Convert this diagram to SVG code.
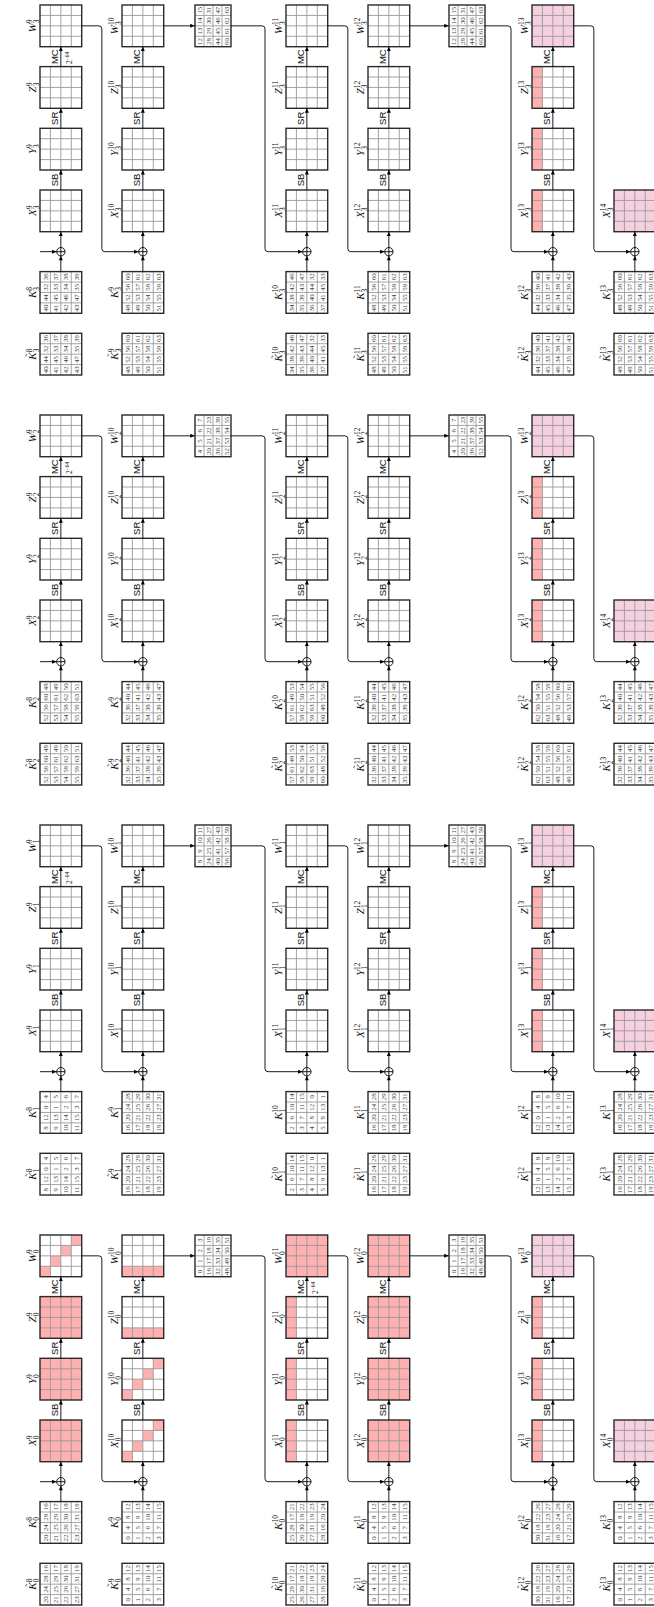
<svg xmlns="http://www.w3.org/2000/svg" xmlns:xlink="http://www.w3.org/1999/xlink" width="654" height="1607" viewBox="0 0 654 1607">
<style>
.bx{fill:none;stroke:#2a2a2a;stroke-width:1.4}
.gl{fill:none;stroke:#9a9a9a;stroke-width:0.9}
.pk{fill:#ffb0b0}
.lp{fill:#f6d0e0}
.ln path{fill:none;stroke:#000;stroke-width:0.9;marker-end:url(#ah)}
.xo{fill:#fff;stroke:#000;stroke-width:0.9}
.lb{font-family:"Liberation Serif",serif;font-size:11px;text-anchor:middle;fill:#111}
.it{font-style:italic}
.s{font-size:7.5px}
.tl{font-family:"Liberation Serif",serif;font-size:9px;text-anchor:middle;fill:#111}
.op{font-family:"Liberation Sans",sans-serif;font-size:9.5px;text-anchor:middle;fill:#111}
.e{font-family:"Liberation Serif",serif;font-size:7.5px;fill:#111}
.n{font-family:"Liberation Serif",serif;font-size:6.8px;text-anchor:middle;fill:#444}
</style>
<defs>
<marker id="ah" viewBox="0 0 8 8" refX="7.5" refY="4" markerWidth="5" markerHeight="5" markerUnits="userSpaceOnUse" orient="auto"><path d="M0.5 0.8L7.5 4L0.5 7.2z" fill="#000"/></marker>
<g id="g"><path class="gl" d="M10.42 0V41.7M20.85 0V41.7M31.27 0V41.7M0 10.42H41.7M0 20.85H41.7M0 31.27H41.7"/><rect class="bx" width="41.7" height="41.7"/></g>
<g id="gm"><path class="gl" d="M10.42 0V36M20.85 0V36M31.27 0V36M0 9H41.7M0 18H41.7M0 27H41.7"/><rect class="bx" width="41.7" height="36"/></g>
<rect id="pf" width="41.7" height="41.7"/>
<path id="pd" d="M0 0h10.42v10.42H0zM10.42 10.42h10.43v10.43H10.42zM20.85 20.85h10.42v10.42H20.85zM31.27 31.27h10.43v10.43H31.27z"/>
<rect id="pc" width="10.42" height="41.7"/>
<rect id="pr" width="41.7" height="10.42"/>
<g id="xo"><circle r="4.2"/><path d="M-4.2 0H4.2M0 -4.2V4.2"/></g>
</defs>
<rect width="654" height="1607" fill="#fff"/>
<g transform="matrix(0,-1,1,0,0,1607)">

<!-- ================= BAND 0 ================= -->
<g id="band0">
<g id="KT0-8" transform="translate(2,40)"><use href="#g"/><g class="n"><text y="7.6"><tspan x="5.2">20</tspan><tspan x="15.6">24</tspan><tspan x="26">28</tspan><tspan x="36.5">16</tspan></text><text y="18"><tspan x="5.2">21</tspan><tspan x="15.6">25</tspan><tspan x="26">29</tspan><tspan x="36.5">17</tspan></text><text y="28.4"><tspan x="5.2">22</tspan><tspan x="15.6">26</tspan><tspan x="26">30</tspan><tspan x="36.5">18</tspan></text><text y="38.8"><tspan x="5.2">23</tspan><tspan x="15.6">27</tspan><tspan x="26">31</tspan><tspan x="36.5">19</tspan></text></g><text class="lb" x="20.85" y="-4.5"><tspan class="it">K</tspan><tspan class="s" dy="3.5">0</tspan><tspan class="s" dx="-3.75" dy="-7.5">8</tspan></text><text class="tl" x="19.8" y="-9">˜</text></g>
<g id="K0-8" transform="translate(63.7,40)"><use href="#g"/><g class="n"><text y="7.6"><tspan x="5.2">20</tspan><tspan x="15.6">24</tspan><tspan x="26">28</tspan><tspan x="36.5">16</tspan></text><text y="18"><tspan x="5.2">21</tspan><tspan x="15.6">25</tspan><tspan x="26">29</tspan><tspan x="36.5">17</tspan></text><text y="28.4"><tspan x="5.2">22</tspan><tspan x="15.6">26</tspan><tspan x="26">30</tspan><tspan x="36.5">18</tspan></text><text y="38.8"><tspan x="5.2">23</tspan><tspan x="15.6">27</tspan><tspan x="26">31</tspan><tspan x="36.5">19</tspan></text></g><text class="lb" x="20.85" y="-4.5"><tspan class="it">K</tspan><tspan class="s" dy="3.5">0</tspan><tspan class="s" dx="-3.75" dy="-7.5">8</tspan></text></g>
<g id="XOR0-9" transform="translate(125.3,60.85)"><use href="#xo" class="xo"/></g>
<g id="X0-9" transform="translate(145.3,40)"><use href="#pf" class="pk"/><use href="#g"/><text class="lb" x="20.85" y="-4.5"><tspan class="it">X</tspan><tspan class="s" dy="3.5">0</tspan><tspan class="s" dx="-3.75" dy="-7.5">9</tspan></text></g>
<g id="Y0-9" transform="translate(207,40)"><use href="#pf" class="pk"/><use href="#g"/><text class="lb" x="20.85" y="-4.5"><tspan class="it">Y</tspan><tspan class="s" dy="3.5">0</tspan><tspan class="s" dx="-3.75" dy="-7.5">9</tspan></text></g>
<g id="Z0-9" transform="translate(268.7,40)"><use href="#pf" class="pk"/><use href="#g"/><text class="lb" x="20.85" y="-4.5"><tspan class="it">Z</tspan><tspan class="s" dy="3.5">0</tspan><tspan class="s" dx="-3.75" dy="-7.5">9</tspan></text></g>
<g id="W0-9" transform="translate(330.3,40)"><use href="#pd" class="pk"/><use href="#g"/><text class="lb" x="20.85" y="-4.5"><tspan class="it">W</tspan><tspan class="s" dy="3.5">0</tspan><tspan class="s" dx="-3.75" dy="-7.5">9</tspan></text></g>

<g id="KT0-9" transform="translate(2,122)"><use href="#g"/><g class="n"><text y="7.6"><tspan x="5.2">0</tspan><tspan x="15.6">4</tspan><tspan x="26">8</tspan><tspan x="36.5">12</tspan></text><text y="18"><tspan x="5.2">1</tspan><tspan x="15.6">5</tspan><tspan x="26">9</tspan><tspan x="36.5">13</tspan></text><text y="28.4"><tspan x="5.2">2</tspan><tspan x="15.6">6</tspan><tspan x="26">10</tspan><tspan x="36.5">14</tspan></text><text y="38.8"><tspan x="5.2">3</tspan><tspan x="15.6">7</tspan><tspan x="26">11</tspan><tspan x="36.5">15</tspan></text></g><text class="lb" x="20.85" y="-4.5"><tspan class="it">K</tspan><tspan class="s" dy="3.5">0</tspan><tspan class="s" dx="-3.75" dy="-7.5">9</tspan></text><text class="tl" x="19.8" y="-9">˜</text></g>
<g id="K0-9" transform="translate(63.7,122)"><use href="#g"/><g class="n"><text y="7.6"><tspan x="5.2">0</tspan><tspan x="15.6">4</tspan><tspan x="26">8</tspan><tspan x="36.5">12</tspan></text><text y="18"><tspan x="5.2">1</tspan><tspan x="15.6">5</tspan><tspan x="26">9</tspan><tspan x="36.5">13</tspan></text><text y="28.4"><tspan x="5.2">2</tspan><tspan x="15.6">6</tspan><tspan x="26">10</tspan><tspan x="36.5">14</tspan></text><text y="38.8"><tspan x="5.2">3</tspan><tspan x="15.6">7</tspan><tspan x="26">11</tspan><tspan x="36.5">15</tspan></text></g><text class="lb" x="20.85" y="-4.5"><tspan class="it">K</tspan><tspan class="s" dy="3.5">0</tspan><tspan class="s" dx="-3.75" dy="-7.5">9</tspan></text></g>
<g id="XOR0-10" transform="translate(125.3,142.85)"><use href="#xo" class="xo"/></g>
<g id="X0-10" transform="translate(145.3,122)"><use href="#pd" class="pk"/><use href="#g"/><text class="lb" x="20.85" y="-4.5"><tspan class="it">X</tspan><tspan class="s" dy="3.5">0</tspan><tspan class="s" dx="-3.75" dy="-7.5">10</tspan></text></g>
<g id="Y0-10" transform="translate(207,122)"><use href="#pd" class="pk"/><use href="#g"/><text class="lb" x="20.85" y="-4.5"><tspan class="it">Y</tspan><tspan class="s" dy="3.5">0</tspan><tspan class="s" dx="-3.75" dy="-7.5">10</tspan></text></g>
<g id="Z0-10" transform="translate(268.7,122)"><use href="#pc" class="pk"/><use href="#g"/><text class="lb" x="20.85" y="-4.5"><tspan class="it">Z</tspan><tspan class="s" dy="3.5">0</tspan><tspan class="s" dx="-3.75" dy="-7.5">10</tspan></text></g>
<g id="W0-10" transform="translate(330.3,122)"><use href="#pc" class="pk"/><use href="#g"/><text class="lb" x="20.85" y="-4.5"><tspan class="it">W</tspan><tspan class="s" dy="3.5">0</tspan><tspan class="s" dx="-3.75" dy="-7.5">10</tspan></text></g>

<g id="T0-a" transform="translate(330.3,195)"><use href="#gm"/><g class="n"><text y="6.9"><tspan x="5.2">0</tspan><tspan x="15.6">1</tspan><tspan x="26">2</tspan><tspan x="36.5">3</tspan></text><text y="15.9"><tspan x="5.2">16</tspan><tspan x="15.6">17</tspan><tspan x="26">18</tspan><tspan x="36.5">19</tspan></text><text y="24.9"><tspan x="5.2">32</tspan><tspan x="15.6">33</tspan><tspan x="26">34</tspan><tspan x="36.5">35</tspan></text><text y="33.9"><tspan x="5.2">48</tspan><tspan x="15.6">49</tspan><tspan x="26">50</tspan><tspan x="36.5">51</tspan></text></g></g>

<g id="KT0-10" transform="translate(2,286)"><use href="#g"/><g class="n"><text y="7.6"><tspan x="5.2">25</tspan><tspan x="15.6">29</tspan><tspan x="26">17</tspan><tspan x="36.5">21</tspan></text><text y="18"><tspan x="5.2">26</tspan><tspan x="15.6">30</tspan><tspan x="26">18</tspan><tspan x="36.5">22</tspan></text><text y="28.4"><tspan x="5.2">27</tspan><tspan x="15.6">31</tspan><tspan x="26">19</tspan><tspan x="36.5">23</tspan></text><text y="38.8"><tspan x="5.2">28</tspan><tspan x="15.6">16</tspan><tspan x="26">20</tspan><tspan x="36.5">24</tspan></text></g><text class="lb" x="20.85" y="-4.5"><tspan class="it">K</tspan><tspan class="s" dy="3.5">0</tspan><tspan class="s" dx="-3.75" dy="-7.5">10</tspan></text><text class="tl" x="17.9" y="-9">˜</text></g>
<g id="K0-10" transform="translate(63.7,286)"><use href="#g"/><g class="n"><text y="7.6"><tspan x="5.2">25</tspan><tspan x="15.6">29</tspan><tspan x="26">17</tspan><tspan x="36.5">21</tspan></text><text y="18"><tspan x="5.2">26</tspan><tspan x="15.6">30</tspan><tspan x="26">18</tspan><tspan x="36.5">22</tspan></text><text y="28.4"><tspan x="5.2">27</tspan><tspan x="15.6">31</tspan><tspan x="26">19</tspan><tspan x="36.5">23</tspan></text><text y="38.8"><tspan x="5.2">28</tspan><tspan x="15.6">16</tspan><tspan x="26">20</tspan><tspan x="36.5">24</tspan></text></g><text class="lb" x="20.85" y="-4.5"><tspan class="it">K</tspan><tspan class="s" dy="3.5">0</tspan><tspan class="s" dx="-3.75" dy="-7.5">10</tspan></text></g>
<g id="XOR0-11" transform="translate(125.3,306.85)"><use href="#xo" class="xo"/></g>
<g id="X0-11" transform="translate(145.3,286)"><use href="#pr" class="pk"/><use href="#g"/><text class="lb" x="20.85" y="-4.5"><tspan class="it">X</tspan><tspan class="s" dy="3.5">0</tspan><tspan class="s" dx="-3.75" dy="-7.5">11</tspan></text></g>
<g id="Y0-11" transform="translate(207,286)"><use href="#pr" class="pk"/><use href="#g"/><text class="lb" x="20.85" y="-4.5"><tspan class="it">Y</tspan><tspan class="s" dy="3.5">0</tspan><tspan class="s" dx="-3.75" dy="-7.5">11</tspan></text></g>
<g id="Z0-11" transform="translate(268.7,286)"><use href="#pr" class="pk"/><use href="#g"/><text class="lb" x="20.85" y="-4.5"><tspan class="it">Z</tspan><tspan class="s" dy="3.5">0</tspan><tspan class="s" dx="-3.75" dy="-7.5">11</tspan></text></g>
<g id="W0-11" transform="translate(330.3,286)"><use href="#pf" class="pk"/><use href="#g"/><text class="lb" x="20.85" y="-4.5"><tspan class="it">W</tspan><tspan class="s" dy="3.5">0</tspan><tspan class="s" dx="-3.75" dy="-7.5">11</tspan></text></g>

<g id="KT0-11" transform="translate(2,368)"><use href="#g"/><g class="n"><text y="7.6"><tspan x="5.2">0</tspan><tspan x="15.6">4</tspan><tspan x="26">8</tspan><tspan x="36.5">12</tspan></text><text y="18"><tspan x="5.2">1</tspan><tspan x="15.6">5</tspan><tspan x="26">9</tspan><tspan x="36.5">13</tspan></text><text y="28.4"><tspan x="5.2">2</tspan><tspan x="15.6">6</tspan><tspan x="26">10</tspan><tspan x="36.5">14</tspan></text><text y="38.8"><tspan x="5.2">3</tspan><tspan x="15.6">7</tspan><tspan x="26">11</tspan><tspan x="36.5">15</tspan></text></g><text class="lb" x="20.85" y="-4.5"><tspan class="it">K</tspan><tspan class="s" dy="3.5">0</tspan><tspan class="s" dx="-3.75" dy="-7.5">11</tspan></text><text class="tl" x="17.9" y="-9">˜</text></g>
<g id="K0-11" transform="translate(63.7,368)"><use href="#g"/><g class="n"><text y="7.6"><tspan x="5.2">0</tspan><tspan x="15.6">4</tspan><tspan x="26">8</tspan><tspan x="36.5">12</tspan></text><text y="18"><tspan x="5.2">1</tspan><tspan x="15.6">5</tspan><tspan x="26">9</tspan><tspan x="36.5">13</tspan></text><text y="28.4"><tspan x="5.2">2</tspan><tspan x="15.6">6</tspan><tspan x="26">10</tspan><tspan x="36.5">14</tspan></text><text y="38.8"><tspan x="5.2">3</tspan><tspan x="15.6">7</tspan><tspan x="26">11</tspan><tspan x="36.5">15</tspan></text></g><text class="lb" x="20.85" y="-4.5"><tspan class="it">K</tspan><tspan class="s" dy="3.5">0</tspan><tspan class="s" dx="-3.75" dy="-7.5">11</tspan></text></g>
<g id="XOR0-12" transform="translate(125.3,388.85)"><use href="#xo" class="xo"/></g>
<g id="X0-12" transform="translate(145.3,368)"><use href="#pf" class="pk"/><use href="#g"/><text class="lb" x="20.85" y="-4.5"><tspan class="it">X</tspan><tspan class="s" dy="3.5">0</tspan><tspan class="s" dx="-3.75" dy="-7.5">12</tspan></text></g>
<g id="Y0-12" transform="translate(207,368)"><use href="#pf" class="pk"/><use href="#g"/><text class="lb" x="20.85" y="-4.5"><tspan class="it">Y</tspan><tspan class="s" dy="3.5">0</tspan><tspan class="s" dx="-3.75" dy="-7.5">12</tspan></text></g>
<g id="Z0-12" transform="translate(268.7,368)"><use href="#pf" class="pk"/><use href="#g"/><text class="lb" x="20.85" y="-4.5"><tspan class="it">Z</tspan><tspan class="s" dy="3.5">0</tspan><tspan class="s" dx="-3.75" dy="-7.5">12</tspan></text></g>
<g id="W0-12" transform="translate(330.3,368)"><use href="#pf" class="pk"/><use href="#g"/><text class="lb" x="20.85" y="-4.5"><tspan class="it">W</tspan><tspan class="s" dy="3.5">0</tspan><tspan class="s" dx="-3.75" dy="-7.5">12</tspan></text></g>

<g id="T0-b" transform="translate(330.3,449)"><use href="#gm"/><g class="n"><text y="6.9"><tspan x="5.2">0</tspan><tspan x="15.6">1</tspan><tspan x="26">2</tspan><tspan x="36.5">3</tspan></text><text y="15.9"><tspan x="5.2">16</tspan><tspan x="15.6">17</tspan><tspan x="26">18</tspan><tspan x="36.5">19</tspan></text><text y="24.9"><tspan x="5.2">32</tspan><tspan x="15.6">33</tspan><tspan x="26">34</tspan><tspan x="36.5">35</tspan></text><text y="33.9"><tspan x="5.2">48</tspan><tspan x="15.6">49</tspan><tspan x="26">50</tspan><tspan x="36.5">51</tspan></text></g></g>

<g id="KT0-12" transform="translate(2,532)"><use href="#g"/><g class="n"><text y="7.6"><tspan x="5.2">30</tspan><tspan x="15.6">18</tspan><tspan x="26">22</tspan><tspan x="36.5">26</tspan></text><text y="18"><tspan x="5.2">31</tspan><tspan x="15.6">19</tspan><tspan x="26">23</tspan><tspan x="36.5">27</tspan></text><text y="28.4"><tspan x="5.2">16</tspan><tspan x="15.6">20</tspan><tspan x="26">24</tspan><tspan x="36.5">28</tspan></text><text y="38.8"><tspan x="5.2">17</tspan><tspan x="15.6">21</tspan><tspan x="26">25</tspan><tspan x="36.5">29</tspan></text></g><text class="lb" x="20.85" y="-4.5"><tspan class="it">K</tspan><tspan class="s" dy="3.5">0</tspan><tspan class="s" dx="-3.75" dy="-7.5">12</tspan></text><text class="tl" x="17.9" y="-9">˜</text></g>
<g id="K0-12" transform="translate(63.7,532)"><use href="#g"/><g class="n"><text y="7.6"><tspan x="5.2">30</tspan><tspan x="15.6">18</tspan><tspan x="26">22</tspan><tspan x="36.5">26</tspan></text><text y="18"><tspan x="5.2">31</tspan><tspan x="15.6">19</tspan><tspan x="26">23</tspan><tspan x="36.5">27</tspan></text><text y="28.4"><tspan x="5.2">16</tspan><tspan x="15.6">20</tspan><tspan x="26">24</tspan><tspan x="36.5">28</tspan></text><text y="38.8"><tspan x="5.2">17</tspan><tspan x="15.6">21</tspan><tspan x="26">25</tspan><tspan x="36.5">29</tspan></text></g><text class="lb" x="20.85" y="-4.5"><tspan class="it">K</tspan><tspan class="s" dy="3.5">0</tspan><tspan class="s" dx="-3.75" dy="-7.5">12</tspan></text></g>
<g id="XOR0-13" transform="translate(125.3,552.85)"><use href="#xo" class="xo"/></g>
<g id="X0-13" transform="translate(145.3,532)"><use href="#pr" class="pk"/><use href="#g"/><text class="lb" x="20.85" y="-4.5"><tspan class="it">X</tspan><tspan class="s" dy="3.5">0</tspan><tspan class="s" dx="-3.75" dy="-7.5">13</tspan></text></g>
<g id="Y0-13" transform="translate(207,532)"><use href="#pr" class="pk"/><use href="#g"/><text class="lb" x="20.85" y="-4.5"><tspan class="it">Y</tspan><tspan class="s" dy="3.5">0</tspan><tspan class="s" dx="-3.75" dy="-7.5">13</tspan></text></g>
<g id="Z0-13" transform="translate(268.7,532)"><use href="#pr" class="pk"/><use href="#g"/><text class="lb" x="20.85" y="-4.5"><tspan class="it">Z</tspan><tspan class="s" dy="3.5">0</tspan><tspan class="s" dx="-3.75" dy="-7.5">13</tspan></text></g>
<g id="W0-13" transform="translate(330.3,532)"><use href="#pf" class="lp"/><use href="#g"/><text class="lb" x="20.85" y="-4.5"><tspan class="it">W</tspan><tspan class="s" dy="3.5">0</tspan><tspan class="s" dx="-3.75" dy="-7.5">13</tspan></text></g>

<g id="KT0-13" transform="translate(2,614)"><use href="#g"/><g class="n"><text y="7.6"><tspan x="5.2">0</tspan><tspan x="15.6">4</tspan><tspan x="26">8</tspan><tspan x="36.5">12</tspan></text><text y="18"><tspan x="5.2">1</tspan><tspan x="15.6">5</tspan><tspan x="26">9</tspan><tspan x="36.5">13</tspan></text><text y="28.4"><tspan x="5.2">2</tspan><tspan x="15.6">6</tspan><tspan x="26">10</tspan><tspan x="36.5">14</tspan></text><text y="38.8"><tspan x="5.2">3</tspan><tspan x="15.6">7</tspan><tspan x="26">11</tspan><tspan x="36.5">15</tspan></text></g><text class="lb" x="20.85" y="-4.5"><tspan class="it">K</tspan><tspan class="s" dy="3.5">0</tspan><tspan class="s" dx="-3.75" dy="-7.5">13</tspan></text><text class="tl" x="17.9" y="-9">˜</text></g>
<g id="K0-13" transform="translate(63.7,614)"><use href="#g"/><g class="n"><text y="7.6"><tspan x="5.2">0</tspan><tspan x="15.6">4</tspan><tspan x="26">8</tspan><tspan x="36.5">12</tspan></text><text y="18"><tspan x="5.2">1</tspan><tspan x="15.6">5</tspan><tspan x="26">9</tspan><tspan x="36.5">13</tspan></text><text y="28.4"><tspan x="5.2">2</tspan><tspan x="15.6">6</tspan><tspan x="26">10</tspan><tspan x="36.5">14</tspan></text><text y="38.8"><tspan x="5.2">3</tspan><tspan x="15.6">7</tspan><tspan x="26">11</tspan><tspan x="36.5">15</tspan></text></g><text class="lb" x="20.85" y="-4.5"><tspan class="it">K</tspan><tspan class="s" dy="3.5">0</tspan><tspan class="s" dx="-3.75" dy="-7.5">13</tspan></text></g>
<g id="XOR0-14" transform="translate(125.3,634.85)"><use href="#xo" class="xo"/></g>
<g id="X0-14" transform="translate(145.3,614)"><use href="#pf" class="lp"/><use href="#g"/><text class="lb" x="20.85" y="-4.5"><tspan class="it">X</tspan><tspan class="s" dy="3.5">0</tspan><tspan class="s" dx="-3.75" dy="-7.5">14</tspan></text></g>
</g>

<!-- ================= BAND 1 ================= -->
<g id="band1" transform="translate(410,0)">
<g id="KT1-8" transform="translate(2,40)"><use href="#g"/><g class="n"><text y="7.6"><tspan x="5.2">8</tspan><tspan x="15.6">12</tspan><tspan x="26">0</tspan><tspan x="36.5">4</tspan></text><text y="18"><tspan x="5.2">9</tspan><tspan x="15.6">13</tspan><tspan x="26">1</tspan><tspan x="36.5">5</tspan></text><text y="28.4"><tspan x="5.2">10</tspan><tspan x="15.6">14</tspan><tspan x="26">2</tspan><tspan x="36.5">6</tspan></text><text y="38.8"><tspan x="5.2">11</tspan><tspan x="15.6">15</tspan><tspan x="26">3</tspan><tspan x="36.5">7</tspan></text></g><text class="lb" x="20.85" y="-4.5"><tspan class="it">K</tspan><tspan class="s" dy="3.5">1</tspan><tspan class="s" dx="-3.75" dy="-7.5">8</tspan></text><text class="tl" x="19.8" y="-9">˜</text></g>
<g id="K1-8" transform="translate(63.7,40)"><use href="#g"/><g class="n"><text y="7.6"><tspan x="5.2">8</tspan><tspan x="15.6">12</tspan><tspan x="26">0</tspan><tspan x="36.5">4</tspan></text><text y="18"><tspan x="5.2">9</tspan><tspan x="15.6">13</tspan><tspan x="26">1</tspan><tspan x="36.5">5</tspan></text><text y="28.4"><tspan x="5.2">10</tspan><tspan x="15.6">14</tspan><tspan x="26">2</tspan><tspan x="36.5">6</tspan></text><text y="38.8"><tspan x="5.2">11</tspan><tspan x="15.6">15</tspan><tspan x="26">3</tspan><tspan x="36.5">7</tspan></text></g><text class="lb" x="20.85" y="-4.5"><tspan class="it">K</tspan><tspan class="s" dy="3.5">1</tspan><tspan class="s" dx="-3.75" dy="-7.5">8</tspan></text></g>
<g id="XOR1-9" transform="translate(125.3,60.85)"><use href="#xo" class="xo"/></g>
<g id="X1-9" transform="translate(145.3,40)"><use href="#g"/><text class="lb" x="20.85" y="-4.5"><tspan class="it">X</tspan><tspan class="s" dy="3.5">1</tspan><tspan class="s" dx="-3.75" dy="-7.5">9</tspan></text></g>
<g id="Y1-9" transform="translate(207,40)"><use href="#g"/><text class="lb" x="20.85" y="-4.5"><tspan class="it">Y</tspan><tspan class="s" dy="3.5">1</tspan><tspan class="s" dx="-3.75" dy="-7.5">9</tspan></text></g>
<g id="Z1-9" transform="translate(268.7,40)"><use href="#g"/><text class="lb" x="20.85" y="-4.5"><tspan class="it">Z</tspan><tspan class="s" dy="3.5">1</tspan><tspan class="s" dx="-3.75" dy="-7.5">9</tspan></text></g>
<g id="W1-9" transform="translate(330.3,40)"><use href="#g"/><text class="lb" x="20.85" y="-4.5"><tspan class="it">W</tspan><tspan class="s" dy="3.5">1</tspan><tspan class="s" dx="-3.75" dy="-7.5">9</tspan></text></g>

<g id="KT1-9" transform="translate(2,122)"><use href="#g"/><g class="n"><text y="7.6"><tspan x="5.2">16</tspan><tspan x="15.6">20</tspan><tspan x="26">24</tspan><tspan x="36.5">28</tspan></text><text y="18"><tspan x="5.2">17</tspan><tspan x="15.6">21</tspan><tspan x="26">25</tspan><tspan x="36.5">29</tspan></text><text y="28.4"><tspan x="5.2">18</tspan><tspan x="15.6">22</tspan><tspan x="26">26</tspan><tspan x="36.5">30</tspan></text><text y="38.8"><tspan x="5.2">19</tspan><tspan x="15.6">23</tspan><tspan x="26">27</tspan><tspan x="36.5">31</tspan></text></g><text class="lb" x="20.85" y="-4.5"><tspan class="it">K</tspan><tspan class="s" dy="3.5">1</tspan><tspan class="s" dx="-3.75" dy="-7.5">9</tspan></text><text class="tl" x="19.8" y="-9">˜</text></g>
<g id="K1-9" transform="translate(63.7,122)"><use href="#g"/><g class="n"><text y="7.6"><tspan x="5.2">16</tspan><tspan x="15.6">20</tspan><tspan x="26">24</tspan><tspan x="36.5">28</tspan></text><text y="18"><tspan x="5.2">17</tspan><tspan x="15.6">21</tspan><tspan x="26">25</tspan><tspan x="36.5">29</tspan></text><text y="28.4"><tspan x="5.2">18</tspan><tspan x="15.6">22</tspan><tspan x="26">26</tspan><tspan x="36.5">30</tspan></text><text y="38.8"><tspan x="5.2">19</tspan><tspan x="15.6">23</tspan><tspan x="26">27</tspan><tspan x="36.5">31</tspan></text></g><text class="lb" x="20.85" y="-4.5"><tspan class="it">K</tspan><tspan class="s" dy="3.5">1</tspan><tspan class="s" dx="-3.75" dy="-7.5">9</tspan></text></g>
<g id="XOR1-10" transform="translate(125.3,142.85)"><use href="#xo" class="xo"/></g>
<g id="X1-10" transform="translate(145.3,122)"><use href="#g"/><text class="lb" x="20.85" y="-4.5"><tspan class="it">X</tspan><tspan class="s" dy="3.5">1</tspan><tspan class="s" dx="-3.75" dy="-7.5">10</tspan></text></g>
<g id="Y1-10" transform="translate(207,122)"><use href="#g"/><text class="lb" x="20.85" y="-4.5"><tspan class="it">Y</tspan><tspan class="s" dy="3.5">1</tspan><tspan class="s" dx="-3.75" dy="-7.5">10</tspan></text></g>
<g id="Z1-10" transform="translate(268.7,122)"><use href="#g"/><text class="lb" x="20.85" y="-4.5"><tspan class="it">Z</tspan><tspan class="s" dy="3.5">1</tspan><tspan class="s" dx="-3.75" dy="-7.5">10</tspan></text></g>
<g id="W1-10" transform="translate(330.3,122)"><use href="#g"/><text class="lb" x="20.85" y="-4.5"><tspan class="it">W</tspan><tspan class="s" dy="3.5">1</tspan><tspan class="s" dx="-3.75" dy="-7.5">10</tspan></text></g>

<g id="T1-a" transform="translate(330.3,195)"><use href="#gm"/><g class="n"><text y="6.9"><tspan x="5.2">8</tspan><tspan x="15.6">9</tspan><tspan x="26">10</tspan><tspan x="36.5">11</tspan></text><text y="15.9"><tspan x="5.2">24</tspan><tspan x="15.6">25</tspan><tspan x="26">26</tspan><tspan x="36.5">27</tspan></text><text y="24.9"><tspan x="5.2">40</tspan><tspan x="15.6">41</tspan><tspan x="26">42</tspan><tspan x="36.5">43</tspan></text><text y="33.9"><tspan x="5.2">56</tspan><tspan x="15.6">57</tspan><tspan x="26">58</tspan><tspan x="36.5">59</tspan></text></g></g>

<g id="KT1-10" transform="translate(2,286)"><use href="#g"/><g class="n"><text y="7.6"><tspan x="5.2">2</tspan><tspan x="15.6">6</tspan><tspan x="26">10</tspan><tspan x="36.5">14</tspan></text><text y="18"><tspan x="5.2">3</tspan><tspan x="15.6">7</tspan><tspan x="26">11</tspan><tspan x="36.5">15</tspan></text><text y="28.4"><tspan x="5.2">4</tspan><tspan x="15.6">8</tspan><tspan x="26">12</tspan><tspan x="36.5">0</tspan></text><text y="38.8"><tspan x="5.2">5</tspan><tspan x="15.6">9</tspan><tspan x="26">13</tspan><tspan x="36.5">1</tspan></text></g><text class="lb" x="20.85" y="-4.5"><tspan class="it">K</tspan><tspan class="s" dy="3.5">1</tspan><tspan class="s" dx="-3.75" dy="-7.5">10</tspan></text><text class="tl" x="17.9" y="-9">˜</text></g>
<g id="K1-10" transform="translate(63.7,286)"><use href="#g"/><g class="n"><text y="7.6"><tspan x="5.2">2</tspan><tspan x="15.6">6</tspan><tspan x="26">10</tspan><tspan x="36.5">14</tspan></text><text y="18"><tspan x="5.2">3</tspan><tspan x="15.6">7</tspan><tspan x="26">11</tspan><tspan x="36.5">15</tspan></text><text y="28.4"><tspan x="5.2">4</tspan><tspan x="15.6">8</tspan><tspan x="26">12</tspan><tspan x="36.5">0</tspan></text><text y="38.8"><tspan x="5.2">5</tspan><tspan x="15.6">9</tspan><tspan x="26">13</tspan><tspan x="36.5">1</tspan></text></g><text class="lb" x="20.85" y="-4.5"><tspan class="it">K</tspan><tspan class="s" dy="3.5">1</tspan><tspan class="s" dx="-3.75" dy="-7.5">10</tspan></text></g>
<g id="XOR1-11" transform="translate(125.3,306.85)"><use href="#xo" class="xo"/></g>
<g id="X1-11" transform="translate(145.3,286)"><use href="#g"/><text class="lb" x="20.85" y="-4.5"><tspan class="it">X</tspan><tspan class="s" dy="3.5">1</tspan><tspan class="s" dx="-3.75" dy="-7.5">11</tspan></text></g>
<g id="Y1-11" transform="translate(207,286)"><use href="#g"/><text class="lb" x="20.85" y="-4.5"><tspan class="it">Y</tspan><tspan class="s" dy="3.5">1</tspan><tspan class="s" dx="-3.75" dy="-7.5">11</tspan></text></g>
<g id="Z1-11" transform="translate(268.7,286)"><use href="#g"/><text class="lb" x="20.85" y="-4.5"><tspan class="it">Z</tspan><tspan class="s" dy="3.5">1</tspan><tspan class="s" dx="-3.75" dy="-7.5">11</tspan></text></g>
<g id="W1-11" transform="translate(330.3,286)"><use href="#g"/><text class="lb" x="20.85" y="-4.5"><tspan class="it">W</tspan><tspan class="s" dy="3.5">1</tspan><tspan class="s" dx="-3.75" dy="-7.5">11</tspan></text></g>

<g id="KT1-11" transform="translate(2,368)"><use href="#g"/><g class="n"><text y="7.6"><tspan x="5.2">16</tspan><tspan x="15.6">20</tspan><tspan x="26">24</tspan><tspan x="36.5">28</tspan></text><text y="18"><tspan x="5.2">17</tspan><tspan x="15.6">21</tspan><tspan x="26">25</tspan><tspan x="36.5">29</tspan></text><text y="28.4"><tspan x="5.2">18</tspan><tspan x="15.6">22</tspan><tspan x="26">26</tspan><tspan x="36.5">30</tspan></text><text y="38.8"><tspan x="5.2">19</tspan><tspan x="15.6">23</tspan><tspan x="26">27</tspan><tspan x="36.5">31</tspan></text></g><text class="lb" x="20.85" y="-4.5"><tspan class="it">K</tspan><tspan class="s" dy="3.5">1</tspan><tspan class="s" dx="-3.75" dy="-7.5">11</tspan></text><text class="tl" x="17.9" y="-9">˜</text></g>
<g id="K1-11" transform="translate(63.7,368)"><use href="#g"/><g class="n"><text y="7.6"><tspan x="5.2">16</tspan><tspan x="15.6">20</tspan><tspan x="26">24</tspan><tspan x="36.5">28</tspan></text><text y="18"><tspan x="5.2">17</tspan><tspan x="15.6">21</tspan><tspan x="26">25</tspan><tspan x="36.5">29</tspan></text><text y="28.4"><tspan x="5.2">18</tspan><tspan x="15.6">22</tspan><tspan x="26">26</tspan><tspan x="36.5">30</tspan></text><text y="38.8"><tspan x="5.2">19</tspan><tspan x="15.6">23</tspan><tspan x="26">27</tspan><tspan x="36.5">31</tspan></text></g><text class="lb" x="20.85" y="-4.5"><tspan class="it">K</tspan><tspan class="s" dy="3.5">1</tspan><tspan class="s" dx="-3.75" dy="-7.5">11</tspan></text></g>
<g id="XOR1-12" transform="translate(125.3,388.85)"><use href="#xo" class="xo"/></g>
<g id="X1-12" transform="translate(145.3,368)"><use href="#g"/><text class="lb" x="20.85" y="-4.5"><tspan class="it">X</tspan><tspan class="s" dy="3.5">1</tspan><tspan class="s" dx="-3.75" dy="-7.5">12</tspan></text></g>
<g id="Y1-12" transform="translate(207,368)"><use href="#g"/><text class="lb" x="20.85" y="-4.5"><tspan class="it">Y</tspan><tspan class="s" dy="3.5">1</tspan><tspan class="s" dx="-3.75" dy="-7.5">12</tspan></text></g>
<g id="Z1-12" transform="translate(268.7,368)"><use href="#g"/><text class="lb" x="20.85" y="-4.5"><tspan class="it">Z</tspan><tspan class="s" dy="3.5">1</tspan><tspan class="s" dx="-3.75" dy="-7.5">12</tspan></text></g>
<g id="W1-12" transform="translate(330.3,368)"><use href="#g"/><text class="lb" x="20.85" y="-4.5"><tspan class="it">W</tspan><tspan class="s" dy="3.5">1</tspan><tspan class="s" dx="-3.75" dy="-7.5">12</tspan></text></g>

<g id="T1-b" transform="translate(330.3,449)"><use href="#gm"/><g class="n"><text y="6.9"><tspan x="5.2">8</tspan><tspan x="15.6">9</tspan><tspan x="26">10</tspan><tspan x="36.5">11</tspan></text><text y="15.9"><tspan x="5.2">24</tspan><tspan x="15.6">25</tspan><tspan x="26">26</tspan><tspan x="36.5">27</tspan></text><text y="24.9"><tspan x="5.2">40</tspan><tspan x="15.6">41</tspan><tspan x="26">42</tspan><tspan x="36.5">43</tspan></text><text y="33.9"><tspan x="5.2">56</tspan><tspan x="15.6">57</tspan><tspan x="26">58</tspan><tspan x="36.5">59</tspan></text></g></g>

<g id="KT1-12" transform="translate(2,532)"><use href="#g"/><g class="n"><text y="7.6"><tspan x="5.2">12</tspan><tspan x="15.6">0</tspan><tspan x="26">4</tspan><tspan x="36.5">8</tspan></text><text y="18"><tspan x="5.2">13</tspan><tspan x="15.6">1</tspan><tspan x="26">5</tspan><tspan x="36.5">9</tspan></text><text y="28.4"><tspan x="5.2">14</tspan><tspan x="15.6">2</tspan><tspan x="26">6</tspan><tspan x="36.5">10</tspan></text><text y="38.8"><tspan x="5.2">15</tspan><tspan x="15.6">3</tspan><tspan x="26">7</tspan><tspan x="36.5">11</tspan></text></g><text class="lb" x="20.85" y="-4.5"><tspan class="it">K</tspan><tspan class="s" dy="3.5">1</tspan><tspan class="s" dx="-3.75" dy="-7.5">12</tspan></text><text class="tl" x="17.9" y="-9">˜</text></g>
<g id="K1-12" transform="translate(63.7,532)"><use href="#g"/><g class="n"><text y="7.6"><tspan x="5.2">12</tspan><tspan x="15.6">0</tspan><tspan x="26">4</tspan><tspan x="36.5">8</tspan></text><text y="18"><tspan x="5.2">13</tspan><tspan x="15.6">1</tspan><tspan x="26">5</tspan><tspan x="36.5">9</tspan></text><text y="28.4"><tspan x="5.2">14</tspan><tspan x="15.6">2</tspan><tspan x="26">6</tspan><tspan x="36.5">10</tspan></text><text y="38.8"><tspan x="5.2">15</tspan><tspan x="15.6">3</tspan><tspan x="26">7</tspan><tspan x="36.5">11</tspan></text></g><text class="lb" x="20.85" y="-4.5"><tspan class="it">K</tspan><tspan class="s" dy="3.5">1</tspan><tspan class="s" dx="-3.75" dy="-7.5">12</tspan></text></g>
<g id="XOR1-13" transform="translate(125.3,552.85)"><use href="#xo" class="xo"/></g>
<g id="X1-13" transform="translate(145.3,532)"><use href="#pr" class="pk"/><use href="#g"/><text class="lb" x="20.85" y="-4.5"><tspan class="it">X</tspan><tspan class="s" dy="3.5">1</tspan><tspan class="s" dx="-3.75" dy="-7.5">13</tspan></text></g>
<g id="Y1-13" transform="translate(207,532)"><use href="#pr" class="pk"/><use href="#g"/><text class="lb" x="20.85" y="-4.5"><tspan class="it">Y</tspan><tspan class="s" dy="3.5">1</tspan><tspan class="s" dx="-3.75" dy="-7.5">13</tspan></text></g>
<g id="Z1-13" transform="translate(268.7,532)"><use href="#pr" class="pk"/><use href="#g"/><text class="lb" x="20.85" y="-4.5"><tspan class="it">Z</tspan><tspan class="s" dy="3.5">1</tspan><tspan class="s" dx="-3.75" dy="-7.5">13</tspan></text></g>
<g id="W1-13" transform="translate(330.3,532)"><use href="#pf" class="lp"/><use href="#g"/><text class="lb" x="20.85" y="-4.5"><tspan class="it">W</tspan><tspan class="s" dy="3.5">1</tspan><tspan class="s" dx="-3.75" dy="-7.5">13</tspan></text></g>

<g id="KT1-13" transform="translate(2,614)"><use href="#g"/><g class="n"><text y="7.6"><tspan x="5.2">16</tspan><tspan x="15.6">20</tspan><tspan x="26">24</tspan><tspan x="36.5">28</tspan></text><text y="18"><tspan x="5.2">17</tspan><tspan x="15.6">21</tspan><tspan x="26">25</tspan><tspan x="36.5">29</tspan></text><text y="28.4"><tspan x="5.2">18</tspan><tspan x="15.6">22</tspan><tspan x="26">26</tspan><tspan x="36.5">30</tspan></text><text y="38.8"><tspan x="5.2">19</tspan><tspan x="15.6">23</tspan><tspan x="26">27</tspan><tspan x="36.5">31</tspan></text></g><text class="lb" x="20.85" y="-4.5"><tspan class="it">K</tspan><tspan class="s" dy="3.5">1</tspan><tspan class="s" dx="-3.75" dy="-7.5">13</tspan></text><text class="tl" x="17.9" y="-9">˜</text></g>
<g id="K1-13" transform="translate(63.7,614)"><use href="#g"/><g class="n"><text y="7.6"><tspan x="5.2">16</tspan><tspan x="15.6">20</tspan><tspan x="26">24</tspan><tspan x="36.5">28</tspan></text><text y="18"><tspan x="5.2">17</tspan><tspan x="15.6">21</tspan><tspan x="26">25</tspan><tspan x="36.5">29</tspan></text><text y="28.4"><tspan x="5.2">18</tspan><tspan x="15.6">22</tspan><tspan x="26">26</tspan><tspan x="36.5">30</tspan></text><text y="38.8"><tspan x="5.2">19</tspan><tspan x="15.6">23</tspan><tspan x="26">27</tspan><tspan x="36.5">31</tspan></text></g><text class="lb" x="20.85" y="-4.5"><tspan class="it">K</tspan><tspan class="s" dy="3.5">1</tspan><tspan class="s" dx="-3.75" dy="-7.5">13</tspan></text></g>
<g id="XOR1-14" transform="translate(125.3,634.85)"><use href="#xo" class="xo"/></g>
<g id="X1-14" transform="translate(145.3,614)"><use href="#pf" class="lp"/><use href="#g"/><text class="lb" x="20.85" y="-4.5"><tspan class="it">X</tspan><tspan class="s" dy="3.5">1</tspan><tspan class="s" dx="-3.75" dy="-7.5">14</tspan></text></g>
</g>

<!-- ================= BAND 2 ================= -->
<g id="band2" transform="translate(820,0)">
<g id="KT2-8" transform="translate(2,40)"><use href="#g"/><g class="n"><text y="7.6"><tspan x="5.2">52</tspan><tspan x="15.6">56</tspan><tspan x="26">60</tspan><tspan x="36.5">48</tspan></text><text y="18"><tspan x="5.2">53</tspan><tspan x="15.6">57</tspan><tspan x="26">61</tspan><tspan x="36.5">49</tspan></text><text y="28.4"><tspan x="5.2">54</tspan><tspan x="15.6">58</tspan><tspan x="26">62</tspan><tspan x="36.5">50</tspan></text><text y="38.8"><tspan x="5.2">55</tspan><tspan x="15.6">59</tspan><tspan x="26">63</tspan><tspan x="36.5">51</tspan></text></g><text class="lb" x="20.85" y="-4.5"><tspan class="it">K</tspan><tspan class="s" dy="3.5">2</tspan><tspan class="s" dx="-3.75" dy="-7.5">8</tspan></text><text class="tl" x="19.8" y="-9">˜</text></g>
<g id="K2-8" transform="translate(63.7,40)"><use href="#g"/><g class="n"><text y="7.6"><tspan x="5.2">52</tspan><tspan x="15.6">56</tspan><tspan x="26">60</tspan><tspan x="36.5">48</tspan></text><text y="18"><tspan x="5.2">53</tspan><tspan x="15.6">57</tspan><tspan x="26">61</tspan><tspan x="36.5">49</tspan></text><text y="28.4"><tspan x="5.2">54</tspan><tspan x="15.6">58</tspan><tspan x="26">62</tspan><tspan x="36.5">50</tspan></text><text y="38.8"><tspan x="5.2">55</tspan><tspan x="15.6">59</tspan><tspan x="26">63</tspan><tspan x="36.5">51</tspan></text></g><text class="lb" x="20.85" y="-4.5"><tspan class="it">K</tspan><tspan class="s" dy="3.5">2</tspan><tspan class="s" dx="-3.75" dy="-7.5">8</tspan></text></g>
<g id="XOR2-9" transform="translate(125.3,60.85)"><use href="#xo" class="xo"/></g>
<g id="X2-9" transform="translate(145.3,40)"><use href="#g"/><text class="lb" x="20.85" y="-4.5"><tspan class="it">X</tspan><tspan class="s" dy="3.5">2</tspan><tspan class="s" dx="-3.75" dy="-7.5">9</tspan></text></g>
<g id="Y2-9" transform="translate(207,40)"><use href="#g"/><text class="lb" x="20.85" y="-4.5"><tspan class="it">Y</tspan><tspan class="s" dy="3.5">2</tspan><tspan class="s" dx="-3.75" dy="-7.5">9</tspan></text></g>
<g id="Z2-9" transform="translate(268.7,40)"><use href="#g"/><text class="lb" x="20.85" y="-4.5"><tspan class="it">Z</tspan><tspan class="s" dy="3.5">2</tspan><tspan class="s" dx="-3.75" dy="-7.5">9</tspan></text></g>
<g id="W2-9" transform="translate(330.3,40)"><use href="#g"/><text class="lb" x="20.85" y="-4.5"><tspan class="it">W</tspan><tspan class="s" dy="3.5">2</tspan><tspan class="s" dx="-3.75" dy="-7.5">9</tspan></text></g>

<g id="KT2-9" transform="translate(2,122)"><use href="#g"/><g class="n"><text y="7.6"><tspan x="5.2">32</tspan><tspan x="15.6">36</tspan><tspan x="26">40</tspan><tspan x="36.5">44</tspan></text><text y="18"><tspan x="5.2">33</tspan><tspan x="15.6">37</tspan><tspan x="26">41</tspan><tspan x="36.5">45</tspan></text><text y="28.4"><tspan x="5.2">34</tspan><tspan x="15.6">38</tspan><tspan x="26">42</tspan><tspan x="36.5">46</tspan></text><text y="38.8"><tspan x="5.2">35</tspan><tspan x="15.6">39</tspan><tspan x="26">43</tspan><tspan x="36.5">47</tspan></text></g><text class="lb" x="20.85" y="-4.5"><tspan class="it">K</tspan><tspan class="s" dy="3.5">2</tspan><tspan class="s" dx="-3.75" dy="-7.5">9</tspan></text><text class="tl" x="19.8" y="-9">˜</text></g>
<g id="K2-9" transform="translate(63.7,122)"><use href="#g"/><g class="n"><text y="7.6"><tspan x="5.2">32</tspan><tspan x="15.6">36</tspan><tspan x="26">40</tspan><tspan x="36.5">44</tspan></text><text y="18"><tspan x="5.2">33</tspan><tspan x="15.6">37</tspan><tspan x="26">41</tspan><tspan x="36.5">45</tspan></text><text y="28.4"><tspan x="5.2">34</tspan><tspan x="15.6">38</tspan><tspan x="26">42</tspan><tspan x="36.5">46</tspan></text><text y="38.8"><tspan x="5.2">35</tspan><tspan x="15.6">39</tspan><tspan x="26">43</tspan><tspan x="36.5">47</tspan></text></g><text class="lb" x="20.85" y="-4.5"><tspan class="it">K</tspan><tspan class="s" dy="3.5">2</tspan><tspan class="s" dx="-3.75" dy="-7.5">9</tspan></text></g>
<g id="XOR2-10" transform="translate(125.3,142.85)"><use href="#xo" class="xo"/></g>
<g id="X2-10" transform="translate(145.3,122)"><use href="#g"/><text class="lb" x="20.85" y="-4.5"><tspan class="it">X</tspan><tspan class="s" dy="3.5">2</tspan><tspan class="s" dx="-3.75" dy="-7.5">10</tspan></text></g>
<g id="Y2-10" transform="translate(207,122)"><use href="#g"/><text class="lb" x="20.85" y="-4.5"><tspan class="it">Y</tspan><tspan class="s" dy="3.5">2</tspan><tspan class="s" dx="-3.75" dy="-7.5">10</tspan></text></g>
<g id="Z2-10" transform="translate(268.7,122)"><use href="#g"/><text class="lb" x="20.85" y="-4.5"><tspan class="it">Z</tspan><tspan class="s" dy="3.5">2</tspan><tspan class="s" dx="-3.75" dy="-7.5">10</tspan></text></g>
<g id="W2-10" transform="translate(330.3,122)"><use href="#g"/><text class="lb" x="20.85" y="-4.5"><tspan class="it">W</tspan><tspan class="s" dy="3.5">2</tspan><tspan class="s" dx="-3.75" dy="-7.5">10</tspan></text></g>

<g id="T2-a" transform="translate(330.3,195)"><use href="#gm"/><g class="n"><text y="6.9"><tspan x="5.2">4</tspan><tspan x="15.6">5</tspan><tspan x="26">6</tspan><tspan x="36.5">7</tspan></text><text y="15.9"><tspan x="5.2">20</tspan><tspan x="15.6">21</tspan><tspan x="26">22</tspan><tspan x="36.5">23</tspan></text><text y="24.9"><tspan x="5.2">36</tspan><tspan x="15.6">37</tspan><tspan x="26">38</tspan><tspan x="36.5">39</tspan></text><text y="33.9"><tspan x="5.2">52</tspan><tspan x="15.6">53</tspan><tspan x="26">54</tspan><tspan x="36.5">55</tspan></text></g></g>

<g id="KT2-10" transform="translate(2,286)"><use href="#g"/><g class="n"><text y="7.6"><tspan x="5.2">57</tspan><tspan x="15.6">61</tspan><tspan x="26">49</tspan><tspan x="36.5">53</tspan></text><text y="18"><tspan x="5.2">58</tspan><tspan x="15.6">62</tspan><tspan x="26">50</tspan><tspan x="36.5">54</tspan></text><text y="28.4"><tspan x="5.2">59</tspan><tspan x="15.6">63</tspan><tspan x="26">51</tspan><tspan x="36.5">55</tspan></text><text y="38.8"><tspan x="5.2">60</tspan><tspan x="15.6">48</tspan><tspan x="26">52</tspan><tspan x="36.5">56</tspan></text></g><text class="lb" x="20.85" y="-4.5"><tspan class="it">K</tspan><tspan class="s" dy="3.5">2</tspan><tspan class="s" dx="-3.75" dy="-7.5">10</tspan></text><text class="tl" x="17.9" y="-9">˜</text></g>
<g id="K2-10" transform="translate(63.7,286)"><use href="#g"/><g class="n"><text y="7.6"><tspan x="5.2">57</tspan><tspan x="15.6">61</tspan><tspan x="26">49</tspan><tspan x="36.5">53</tspan></text><text y="18"><tspan x="5.2">58</tspan><tspan x="15.6">62</tspan><tspan x="26">50</tspan><tspan x="36.5">54</tspan></text><text y="28.4"><tspan x="5.2">59</tspan><tspan x="15.6">63</tspan><tspan x="26">51</tspan><tspan x="36.5">55</tspan></text><text y="38.8"><tspan x="5.2">60</tspan><tspan x="15.6">48</tspan><tspan x="26">52</tspan><tspan x="36.5">56</tspan></text></g><text class="lb" x="20.85" y="-4.5"><tspan class="it">K</tspan><tspan class="s" dy="3.5">2</tspan><tspan class="s" dx="-3.75" dy="-7.5">10</tspan></text></g>
<g id="XOR2-11" transform="translate(125.3,306.85)"><use href="#xo" class="xo"/></g>
<g id="X2-11" transform="translate(145.3,286)"><use href="#g"/><text class="lb" x="20.85" y="-4.5"><tspan class="it">X</tspan><tspan class="s" dy="3.5">2</tspan><tspan class="s" dx="-3.75" dy="-7.5">11</tspan></text></g>
<g id="Y2-11" transform="translate(207,286)"><use href="#g"/><text class="lb" x="20.85" y="-4.5"><tspan class="it">Y</tspan><tspan class="s" dy="3.5">2</tspan><tspan class="s" dx="-3.75" dy="-7.5">11</tspan></text></g>
<g id="Z2-11" transform="translate(268.7,286)"><use href="#g"/><text class="lb" x="20.85" y="-4.5"><tspan class="it">Z</tspan><tspan class="s" dy="3.5">2</tspan><tspan class="s" dx="-3.75" dy="-7.5">11</tspan></text></g>
<g id="W2-11" transform="translate(330.3,286)"><use href="#g"/><text class="lb" x="20.85" y="-4.5"><tspan class="it">W</tspan><tspan class="s" dy="3.5">2</tspan><tspan class="s" dx="-3.75" dy="-7.5">11</tspan></text></g>

<g id="KT2-11" transform="translate(2,368)"><use href="#g"/><g class="n"><text y="7.6"><tspan x="5.2">32</tspan><tspan x="15.6">36</tspan><tspan x="26">40</tspan><tspan x="36.5">44</tspan></text><text y="18"><tspan x="5.2">33</tspan><tspan x="15.6">37</tspan><tspan x="26">41</tspan><tspan x="36.5">45</tspan></text><text y="28.4"><tspan x="5.2">34</tspan><tspan x="15.6">38</tspan><tspan x="26">42</tspan><tspan x="36.5">46</tspan></text><text y="38.8"><tspan x="5.2">35</tspan><tspan x="15.6">39</tspan><tspan x="26">43</tspan><tspan x="36.5">47</tspan></text></g><text class="lb" x="20.85" y="-4.5"><tspan class="it">K</tspan><tspan class="s" dy="3.5">2</tspan><tspan class="s" dx="-3.75" dy="-7.5">11</tspan></text><text class="tl" x="17.9" y="-9">˜</text></g>
<g id="K2-11" transform="translate(63.7,368)"><use href="#g"/><g class="n"><text y="7.6"><tspan x="5.2">32</tspan><tspan x="15.6">36</tspan><tspan x="26">40</tspan><tspan x="36.5">44</tspan></text><text y="18"><tspan x="5.2">33</tspan><tspan x="15.6">37</tspan><tspan x="26">41</tspan><tspan x="36.5">45</tspan></text><text y="28.4"><tspan x="5.2">34</tspan><tspan x="15.6">38</tspan><tspan x="26">42</tspan><tspan x="36.5">46</tspan></text><text y="38.8"><tspan x="5.2">35</tspan><tspan x="15.6">39</tspan><tspan x="26">43</tspan><tspan x="36.5">47</tspan></text></g><text class="lb" x="20.85" y="-4.5"><tspan class="it">K</tspan><tspan class="s" dy="3.5">2</tspan><tspan class="s" dx="-3.75" dy="-7.5">11</tspan></text></g>
<g id="XOR2-12" transform="translate(125.3,388.85)"><use href="#xo" class="xo"/></g>
<g id="X2-12" transform="translate(145.3,368)"><use href="#g"/><text class="lb" x="20.85" y="-4.5"><tspan class="it">X</tspan><tspan class="s" dy="3.5">2</tspan><tspan class="s" dx="-3.75" dy="-7.5">12</tspan></text></g>
<g id="Y2-12" transform="translate(207,368)"><use href="#g"/><text class="lb" x="20.85" y="-4.5"><tspan class="it">Y</tspan><tspan class="s" dy="3.5">2</tspan><tspan class="s" dx="-3.75" dy="-7.5">12</tspan></text></g>
<g id="Z2-12" transform="translate(268.7,368)"><use href="#g"/><text class="lb" x="20.85" y="-4.5"><tspan class="it">Z</tspan><tspan class="s" dy="3.5">2</tspan><tspan class="s" dx="-3.75" dy="-7.5">12</tspan></text></g>
<g id="W2-12" transform="translate(330.3,368)"><use href="#g"/><text class="lb" x="20.85" y="-4.5"><tspan class="it">W</tspan><tspan class="s" dy="3.5">2</tspan><tspan class="s" dx="-3.75" dy="-7.5">12</tspan></text></g>

<g id="T2-b" transform="translate(330.3,449)"><use href="#gm"/><g class="n"><text y="6.9"><tspan x="5.2">4</tspan><tspan x="15.6">5</tspan><tspan x="26">6</tspan><tspan x="36.5">7</tspan></text><text y="15.9"><tspan x="5.2">20</tspan><tspan x="15.6">21</tspan><tspan x="26">22</tspan><tspan x="36.5">23</tspan></text><text y="24.9"><tspan x="5.2">36</tspan><tspan x="15.6">37</tspan><tspan x="26">38</tspan><tspan x="36.5">39</tspan></text><text y="33.9"><tspan x="5.2">52</tspan><tspan x="15.6">53</tspan><tspan x="26">54</tspan><tspan x="36.5">55</tspan></text></g></g>

<g id="KT2-12" transform="translate(2,532)"><use href="#g"/><g class="n"><text y="7.6"><tspan x="5.2">62</tspan><tspan x="15.6">50</tspan><tspan x="26">54</tspan><tspan x="36.5">58</tspan></text><text y="18"><tspan x="5.2">63</tspan><tspan x="15.6">51</tspan><tspan x="26">55</tspan><tspan x="36.5">59</tspan></text><text y="28.4"><tspan x="5.2">48</tspan><tspan x="15.6">52</tspan><tspan x="26">56</tspan><tspan x="36.5">60</tspan></text><text y="38.8"><tspan x="5.2">49</tspan><tspan x="15.6">53</tspan><tspan x="26">57</tspan><tspan x="36.5">61</tspan></text></g><text class="lb" x="20.85" y="-4.5"><tspan class="it">K</tspan><tspan class="s" dy="3.5">2</tspan><tspan class="s" dx="-3.75" dy="-7.5">12</tspan></text><text class="tl" x="17.9" y="-9">˜</text></g>
<g id="K2-12" transform="translate(63.7,532)"><use href="#g"/><g class="n"><text y="7.6"><tspan x="5.2">62</tspan><tspan x="15.6">50</tspan><tspan x="26">54</tspan><tspan x="36.5">58</tspan></text><text y="18"><tspan x="5.2">63</tspan><tspan x="15.6">51</tspan><tspan x="26">55</tspan><tspan x="36.5">59</tspan></text><text y="28.4"><tspan x="5.2">48</tspan><tspan x="15.6">52</tspan><tspan x="26">56</tspan><tspan x="36.5">60</tspan></text><text y="38.8"><tspan x="5.2">49</tspan><tspan x="15.6">53</tspan><tspan x="26">57</tspan><tspan x="36.5">61</tspan></text></g><text class="lb" x="20.85" y="-4.5"><tspan class="it">K</tspan><tspan class="s" dy="3.5">2</tspan><tspan class="s" dx="-3.75" dy="-7.5">12</tspan></text></g>
<g id="XOR2-13" transform="translate(125.3,552.85)"><use href="#xo" class="xo"/></g>
<g id="X2-13" transform="translate(145.3,532)"><use href="#pr" class="pk"/><use href="#g"/><text class="lb" x="20.85" y="-4.5"><tspan class="it">X</tspan><tspan class="s" dy="3.5">2</tspan><tspan class="s" dx="-3.75" dy="-7.5">13</tspan></text></g>
<g id="Y2-13" transform="translate(207,532)"><use href="#pr" class="pk"/><use href="#g"/><text class="lb" x="20.85" y="-4.5"><tspan class="it">Y</tspan><tspan class="s" dy="3.5">2</tspan><tspan class="s" dx="-3.75" dy="-7.5">13</tspan></text></g>
<g id="Z2-13" transform="translate(268.7,532)"><use href="#pr" class="pk"/><use href="#g"/><text class="lb" x="20.85" y="-4.5"><tspan class="it">Z</tspan><tspan class="s" dy="3.5">2</tspan><tspan class="s" dx="-3.75" dy="-7.5">13</tspan></text></g>
<g id="W2-13" transform="translate(330.3,532)"><use href="#pf" class="lp"/><use href="#g"/><text class="lb" x="20.85" y="-4.5"><tspan class="it">W</tspan><tspan class="s" dy="3.5">2</tspan><tspan class="s" dx="-3.75" dy="-7.5">13</tspan></text></g>

<g id="KT2-13" transform="translate(2,614)"><use href="#g"/><g class="n"><text y="7.6"><tspan x="5.2">32</tspan><tspan x="15.6">36</tspan><tspan x="26">40</tspan><tspan x="36.5">44</tspan></text><text y="18"><tspan x="5.2">33</tspan><tspan x="15.6">37</tspan><tspan x="26">41</tspan><tspan x="36.5">45</tspan></text><text y="28.4"><tspan x="5.2">34</tspan><tspan x="15.6">38</tspan><tspan x="26">42</tspan><tspan x="36.5">46</tspan></text><text y="38.8"><tspan x="5.2">35</tspan><tspan x="15.6">39</tspan><tspan x="26">43</tspan><tspan x="36.5">47</tspan></text></g><text class="lb" x="20.85" y="-4.5"><tspan class="it">K</tspan><tspan class="s" dy="3.5">2</tspan><tspan class="s" dx="-3.75" dy="-7.5">13</tspan></text><text class="tl" x="17.9" y="-9">˜</text></g>
<g id="K2-13" transform="translate(63.7,614)"><use href="#g"/><g class="n"><text y="7.6"><tspan x="5.2">32</tspan><tspan x="15.6">36</tspan><tspan x="26">40</tspan><tspan x="36.5">44</tspan></text><text y="18"><tspan x="5.2">33</tspan><tspan x="15.6">37</tspan><tspan x="26">41</tspan><tspan x="36.5">45</tspan></text><text y="28.4"><tspan x="5.2">34</tspan><tspan x="15.6">38</tspan><tspan x="26">42</tspan><tspan x="36.5">46</tspan></text><text y="38.8"><tspan x="5.2">35</tspan><tspan x="15.6">39</tspan><tspan x="26">43</tspan><tspan x="36.5">47</tspan></text></g><text class="lb" x="20.85" y="-4.5"><tspan class="it">K</tspan><tspan class="s" dy="3.5">2</tspan><tspan class="s" dx="-3.75" dy="-7.5">13</tspan></text></g>
<g id="XOR2-14" transform="translate(125.3,634.85)"><use href="#xo" class="xo"/></g>
<g id="X2-14" transform="translate(145.3,614)"><use href="#pf" class="lp"/><use href="#g"/><text class="lb" x="20.85" y="-4.5"><tspan class="it">X</tspan><tspan class="s" dy="3.5">2</tspan><tspan class="s" dx="-3.75" dy="-7.5">14</tspan></text></g>
</g>

<!-- ================= BAND 3 ================= -->
<g id="band3" transform="translate(1230,0)">
<g id="KT3-8" transform="translate(2,40)"><use href="#g"/><g class="n"><text y="7.6"><tspan x="5.2">40</tspan><tspan x="15.6">44</tspan><tspan x="26">32</tspan><tspan x="36.5">36</tspan></text><text y="18"><tspan x="5.2">41</tspan><tspan x="15.6">45</tspan><tspan x="26">33</tspan><tspan x="36.5">37</tspan></text><text y="28.4"><tspan x="5.2">42</tspan><tspan x="15.6">46</tspan><tspan x="26">34</tspan><tspan x="36.5">38</tspan></text><text y="38.8"><tspan x="5.2">43</tspan><tspan x="15.6">47</tspan><tspan x="26">35</tspan><tspan x="36.5">39</tspan></text></g><text class="lb" x="20.85" y="-4.5"><tspan class="it">K</tspan><tspan class="s" dy="3.5">3</tspan><tspan class="s" dx="-3.75" dy="-7.5">8</tspan></text><text class="tl" x="19.8" y="-9">˜</text></g>
<g id="K3-8" transform="translate(63.7,40)"><use href="#g"/><g class="n"><text y="7.6"><tspan x="5.2">40</tspan><tspan x="15.6">44</tspan><tspan x="26">32</tspan><tspan x="36.5">36</tspan></text><text y="18"><tspan x="5.2">41</tspan><tspan x="15.6">45</tspan><tspan x="26">33</tspan><tspan x="36.5">37</tspan></text><text y="28.4"><tspan x="5.2">42</tspan><tspan x="15.6">46</tspan><tspan x="26">34</tspan><tspan x="36.5">38</tspan></text><text y="38.8"><tspan x="5.2">43</tspan><tspan x="15.6">47</tspan><tspan x="26">35</tspan><tspan x="36.5">39</tspan></text></g><text class="lb" x="20.85" y="-4.5"><tspan class="it">K</tspan><tspan class="s" dy="3.5">3</tspan><tspan class="s" dx="-3.75" dy="-7.5">8</tspan></text></g>
<g id="XOR3-9" transform="translate(125.3,60.85)"><use href="#xo" class="xo"/></g>
<g id="X3-9" transform="translate(145.3,40)"><use href="#g"/><text class="lb" x="20.85" y="-4.5"><tspan class="it">X</tspan><tspan class="s" dy="3.5">3</tspan><tspan class="s" dx="-3.75" dy="-7.5">9</tspan></text></g>
<g id="Y3-9" transform="translate(207,40)"><use href="#g"/><text class="lb" x="20.85" y="-4.5"><tspan class="it">Y</tspan><tspan class="s" dy="3.5">3</tspan><tspan class="s" dx="-3.75" dy="-7.5">9</tspan></text></g>
<g id="Z3-9" transform="translate(268.7,40)"><use href="#g"/><text class="lb" x="20.85" y="-4.5"><tspan class="it">Z</tspan><tspan class="s" dy="3.5">3</tspan><tspan class="s" dx="-3.75" dy="-7.5">9</tspan></text></g>
<g id="W3-9" transform="translate(330.3,40)"><use href="#g"/><text class="lb" x="20.85" y="-4.5"><tspan class="it">W</tspan><tspan class="s" dy="3.5">3</tspan><tspan class="s" dx="-3.75" dy="-7.5">9</tspan></text></g>

<g id="KT3-9" transform="translate(2,122)"><use href="#g"/><g class="n"><text y="7.6"><tspan x="5.2">48</tspan><tspan x="15.6">52</tspan><tspan x="26">56</tspan><tspan x="36.5">60</tspan></text><text y="18"><tspan x="5.2">49</tspan><tspan x="15.6">53</tspan><tspan x="26">57</tspan><tspan x="36.5">61</tspan></text><text y="28.4"><tspan x="5.2">50</tspan><tspan x="15.6">54</tspan><tspan x="26">58</tspan><tspan x="36.5">62</tspan></text><text y="38.8"><tspan x="5.2">51</tspan><tspan x="15.6">55</tspan><tspan x="26">59</tspan><tspan x="36.5">63</tspan></text></g><text class="lb" x="20.85" y="-4.5"><tspan class="it">K</tspan><tspan class="s" dy="3.5">3</tspan><tspan class="s" dx="-3.75" dy="-7.5">9</tspan></text><text class="tl" x="19.8" y="-9">˜</text></g>
<g id="K3-9" transform="translate(63.7,122)"><use href="#g"/><g class="n"><text y="7.6"><tspan x="5.2">48</tspan><tspan x="15.6">52</tspan><tspan x="26">56</tspan><tspan x="36.5">60</tspan></text><text y="18"><tspan x="5.2">49</tspan><tspan x="15.6">53</tspan><tspan x="26">57</tspan><tspan x="36.5">61</tspan></text><text y="28.4"><tspan x="5.2">50</tspan><tspan x="15.6">54</tspan><tspan x="26">58</tspan><tspan x="36.5">62</tspan></text><text y="38.8"><tspan x="5.2">51</tspan><tspan x="15.6">55</tspan><tspan x="26">59</tspan><tspan x="36.5">63</tspan></text></g><text class="lb" x="20.85" y="-4.5"><tspan class="it">K</tspan><tspan class="s" dy="3.5">3</tspan><tspan class="s" dx="-3.75" dy="-7.5">9</tspan></text></g>
<g id="XOR3-10" transform="translate(125.3,142.85)"><use href="#xo" class="xo"/></g>
<g id="X3-10" transform="translate(145.3,122)"><use href="#g"/><text class="lb" x="20.85" y="-4.5"><tspan class="it">X</tspan><tspan class="s" dy="3.5">3</tspan><tspan class="s" dx="-3.75" dy="-7.5">10</tspan></text></g>
<g id="Y3-10" transform="translate(207,122)"><use href="#g"/><text class="lb" x="20.85" y="-4.5"><tspan class="it">Y</tspan><tspan class="s" dy="3.5">3</tspan><tspan class="s" dx="-3.75" dy="-7.5">10</tspan></text></g>
<g id="Z3-10" transform="translate(268.7,122)"><use href="#g"/><text class="lb" x="20.85" y="-4.5"><tspan class="it">Z</tspan><tspan class="s" dy="3.5">3</tspan><tspan class="s" dx="-3.75" dy="-7.5">10</tspan></text></g>
<g id="W3-10" transform="translate(330.3,122)"><use href="#g"/><text class="lb" x="20.85" y="-4.5"><tspan class="it">W</tspan><tspan class="s" dy="3.5">3</tspan><tspan class="s" dx="-3.75" dy="-7.5">10</tspan></text></g>

<g id="T3-a" transform="translate(330.3,195)"><use href="#gm"/><g class="n"><text y="6.9"><tspan x="5.2">12</tspan><tspan x="15.6">13</tspan><tspan x="26">14</tspan><tspan x="36.5">15</tspan></text><text y="15.9"><tspan x="5.2">28</tspan><tspan x="15.6">29</tspan><tspan x="26">30</tspan><tspan x="36.5">31</tspan></text><text y="24.9"><tspan x="5.2">44</tspan><tspan x="15.6">45</tspan><tspan x="26">46</tspan><tspan x="36.5">47</tspan></text><text y="33.9"><tspan x="5.2">60</tspan><tspan x="15.6">61</tspan><tspan x="26">62</tspan><tspan x="36.5">63</tspan></text></g></g>

<g id="KT3-10" transform="translate(2,286)"><use href="#g"/><g class="n"><text y="7.6"><tspan x="5.2">34</tspan><tspan x="15.6">38</tspan><tspan x="26">42</tspan><tspan x="36.5">46</tspan></text><text y="18"><tspan x="5.2">35</tspan><tspan x="15.6">39</tspan><tspan x="26">43</tspan><tspan x="36.5">47</tspan></text><text y="28.4"><tspan x="5.2">36</tspan><tspan x="15.6">40</tspan><tspan x="26">44</tspan><tspan x="36.5">32</tspan></text><text y="38.8"><tspan x="5.2">37</tspan><tspan x="15.6">41</tspan><tspan x="26">45</tspan><tspan x="36.5">33</tspan></text></g><text class="lb" x="20.85" y="-4.5"><tspan class="it">K</tspan><tspan class="s" dy="3.5">3</tspan><tspan class="s" dx="-3.75" dy="-7.5">10</tspan></text><text class="tl" x="17.9" y="-9">˜</text></g>
<g id="K3-10" transform="translate(63.7,286)"><use href="#g"/><g class="n"><text y="7.6"><tspan x="5.2">34</tspan><tspan x="15.6">38</tspan><tspan x="26">42</tspan><tspan x="36.5">46</tspan></text><text y="18"><tspan x="5.2">35</tspan><tspan x="15.6">39</tspan><tspan x="26">43</tspan><tspan x="36.5">47</tspan></text><text y="28.4"><tspan x="5.2">36</tspan><tspan x="15.6">40</tspan><tspan x="26">44</tspan><tspan x="36.5">32</tspan></text><text y="38.8"><tspan x="5.2">37</tspan><tspan x="15.6">41</tspan><tspan x="26">45</tspan><tspan x="36.5">33</tspan></text></g><text class="lb" x="20.85" y="-4.5"><tspan class="it">K</tspan><tspan class="s" dy="3.5">3</tspan><tspan class="s" dx="-3.75" dy="-7.5">10</tspan></text></g>
<g id="XOR3-11" transform="translate(125.3,306.85)"><use href="#xo" class="xo"/></g>
<g id="X3-11" transform="translate(145.3,286)"><use href="#g"/><text class="lb" x="20.85" y="-4.5"><tspan class="it">X</tspan><tspan class="s" dy="3.5">3</tspan><tspan class="s" dx="-3.75" dy="-7.5">11</tspan></text></g>
<g id="Y3-11" transform="translate(207,286)"><use href="#g"/><text class="lb" x="20.85" y="-4.5"><tspan class="it">Y</tspan><tspan class="s" dy="3.5">3</tspan><tspan class="s" dx="-3.75" dy="-7.5">11</tspan></text></g>
<g id="Z3-11" transform="translate(268.7,286)"><use href="#g"/><text class="lb" x="20.85" y="-4.5"><tspan class="it">Z</tspan><tspan class="s" dy="3.5">3</tspan><tspan class="s" dx="-3.75" dy="-7.5">11</tspan></text></g>
<g id="W3-11" transform="translate(330.3,286)"><use href="#g"/><text class="lb" x="20.85" y="-4.5"><tspan class="it">W</tspan><tspan class="s" dy="3.5">3</tspan><tspan class="s" dx="-3.75" dy="-7.5">11</tspan></text></g>

<g id="KT3-11" transform="translate(2,368)"><use href="#g"/><g class="n"><text y="7.6"><tspan x="5.2">48</tspan><tspan x="15.6">52</tspan><tspan x="26">56</tspan><tspan x="36.5">60</tspan></text><text y="18"><tspan x="5.2">49</tspan><tspan x="15.6">53</tspan><tspan x="26">57</tspan><tspan x="36.5">61</tspan></text><text y="28.4"><tspan x="5.2">50</tspan><tspan x="15.6">54</tspan><tspan x="26">58</tspan><tspan x="36.5">62</tspan></text><text y="38.8"><tspan x="5.2">51</tspan><tspan x="15.6">55</tspan><tspan x="26">59</tspan><tspan x="36.5">63</tspan></text></g><text class="lb" x="20.85" y="-4.5"><tspan class="it">K</tspan><tspan class="s" dy="3.5">3</tspan><tspan class="s" dx="-3.75" dy="-7.5">11</tspan></text><text class="tl" x="17.9" y="-9">˜</text></g>
<g id="K3-11" transform="translate(63.7,368)"><use href="#g"/><g class="n"><text y="7.6"><tspan x="5.2">48</tspan><tspan x="15.6">52</tspan><tspan x="26">56</tspan><tspan x="36.5">60</tspan></text><text y="18"><tspan x="5.2">49</tspan><tspan x="15.6">53</tspan><tspan x="26">57</tspan><tspan x="36.5">61</tspan></text><text y="28.4"><tspan x="5.2">50</tspan><tspan x="15.6">54</tspan><tspan x="26">58</tspan><tspan x="36.5">62</tspan></text><text y="38.8"><tspan x="5.2">51</tspan><tspan x="15.6">55</tspan><tspan x="26">59</tspan><tspan x="36.5">63</tspan></text></g><text class="lb" x="20.85" y="-4.5"><tspan class="it">K</tspan><tspan class="s" dy="3.5">3</tspan><tspan class="s" dx="-3.75" dy="-7.5">11</tspan></text></g>
<g id="XOR3-12" transform="translate(125.3,388.85)"><use href="#xo" class="xo"/></g>
<g id="X3-12" transform="translate(145.3,368)"><use href="#g"/><text class="lb" x="20.85" y="-4.5"><tspan class="it">X</tspan><tspan class="s" dy="3.5">3</tspan><tspan class="s" dx="-3.75" dy="-7.5">12</tspan></text></g>
<g id="Y3-12" transform="translate(207,368)"><use href="#g"/><text class="lb" x="20.85" y="-4.5"><tspan class="it">Y</tspan><tspan class="s" dy="3.5">3</tspan><tspan class="s" dx="-3.75" dy="-7.5">12</tspan></text></g>
<g id="Z3-12" transform="translate(268.7,368)"><use href="#g"/><text class="lb" x="20.85" y="-4.5"><tspan class="it">Z</tspan><tspan class="s" dy="3.5">3</tspan><tspan class="s" dx="-3.75" dy="-7.5">12</tspan></text></g>
<g id="W3-12" transform="translate(330.3,368)"><use href="#g"/><text class="lb" x="20.85" y="-4.5"><tspan class="it">W</tspan><tspan class="s" dy="3.5">3</tspan><tspan class="s" dx="-3.75" dy="-7.5">12</tspan></text></g>

<g id="T3-b" transform="translate(330.3,449)"><use href="#gm"/><g class="n"><text y="6.9"><tspan x="5.2">12</tspan><tspan x="15.6">13</tspan><tspan x="26">14</tspan><tspan x="36.5">15</tspan></text><text y="15.9"><tspan x="5.2">28</tspan><tspan x="15.6">29</tspan><tspan x="26">30</tspan><tspan x="36.5">31</tspan></text><text y="24.9"><tspan x="5.2">44</tspan><tspan x="15.6">45</tspan><tspan x="26">46</tspan><tspan x="36.5">47</tspan></text><text y="33.9"><tspan x="5.2">60</tspan><tspan x="15.6">61</tspan><tspan x="26">62</tspan><tspan x="36.5">63</tspan></text></g></g>

<g id="KT3-12" transform="translate(2,532)"><use href="#g"/><g class="n"><text y="7.6"><tspan x="5.2">44</tspan><tspan x="15.6">32</tspan><tspan x="26">36</tspan><tspan x="36.5">40</tspan></text><text y="18"><tspan x="5.2">45</tspan><tspan x="15.6">33</tspan><tspan x="26">37</tspan><tspan x="36.5">41</tspan></text><text y="28.4"><tspan x="5.2">46</tspan><tspan x="15.6">34</tspan><tspan x="26">38</tspan><tspan x="36.5">42</tspan></text><text y="38.8"><tspan x="5.2">47</tspan><tspan x="15.6">35</tspan><tspan x="26">39</tspan><tspan x="36.5">43</tspan></text></g><text class="lb" x="20.85" y="-4.5"><tspan class="it">K</tspan><tspan class="s" dy="3.5">3</tspan><tspan class="s" dx="-3.75" dy="-7.5">12</tspan></text><text class="tl" x="17.9" y="-9">˜</text></g>
<g id="K3-12" transform="translate(63.7,532)"><use href="#g"/><g class="n"><text y="7.6"><tspan x="5.2">44</tspan><tspan x="15.6">32</tspan><tspan x="26">36</tspan><tspan x="36.5">40</tspan></text><text y="18"><tspan x="5.2">45</tspan><tspan x="15.6">33</tspan><tspan x="26">37</tspan><tspan x="36.5">41</tspan></text><text y="28.4"><tspan x="5.2">46</tspan><tspan x="15.6">34</tspan><tspan x="26">38</tspan><tspan x="36.5">42</tspan></text><text y="38.8"><tspan x="5.2">47</tspan><tspan x="15.6">35</tspan><tspan x="26">39</tspan><tspan x="36.5">43</tspan></text></g><text class="lb" x="20.85" y="-4.5"><tspan class="it">K</tspan><tspan class="s" dy="3.5">3</tspan><tspan class="s" dx="-3.75" dy="-7.5">12</tspan></text></g>
<g id="XOR3-13" transform="translate(125.3,552.85)"><use href="#xo" class="xo"/></g>
<g id="X3-13" transform="translate(145.3,532)"><use href="#pr" class="pk"/><use href="#g"/><text class="lb" x="20.85" y="-4.5"><tspan class="it">X</tspan><tspan class="s" dy="3.5">3</tspan><tspan class="s" dx="-3.75" dy="-7.5">13</tspan></text></g>
<g id="Y3-13" transform="translate(207,532)"><use href="#pr" class="pk"/><use href="#g"/><text class="lb" x="20.85" y="-4.5"><tspan class="it">Y</tspan><tspan class="s" dy="3.5">3</tspan><tspan class="s" dx="-3.75" dy="-7.5">13</tspan></text></g>
<g id="Z3-13" transform="translate(268.7,532)"><use href="#pr" class="pk"/><use href="#g"/><text class="lb" x="20.85" y="-4.5"><tspan class="it">Z</tspan><tspan class="s" dy="3.5">3</tspan><tspan class="s" dx="-3.75" dy="-7.5">13</tspan></text></g>
<g id="W3-13" transform="translate(330.3,532)"><use href="#pf" class="lp"/><use href="#g"/><text class="lb" x="20.85" y="-4.5"><tspan class="it">W</tspan><tspan class="s" dy="3.5">3</tspan><tspan class="s" dx="-3.75" dy="-7.5">13</tspan></text></g>

<g id="KT3-13" transform="translate(2,614)"><use href="#g"/><g class="n"><text y="7.6"><tspan x="5.2">48</tspan><tspan x="15.6">52</tspan><tspan x="26">56</tspan><tspan x="36.5">60</tspan></text><text y="18"><tspan x="5.2">49</tspan><tspan x="15.6">53</tspan><tspan x="26">57</tspan><tspan x="36.5">61</tspan></text><text y="28.4"><tspan x="5.2">50</tspan><tspan x="15.6">54</tspan><tspan x="26">58</tspan><tspan x="36.5">62</tspan></text><text y="38.8"><tspan x="5.2">51</tspan><tspan x="15.6">55</tspan><tspan x="26">59</tspan><tspan x="36.5">63</tspan></text></g><text class="lb" x="20.85" y="-4.5"><tspan class="it">K</tspan><tspan class="s" dy="3.5">3</tspan><tspan class="s" dx="-3.75" dy="-7.5">13</tspan></text><text class="tl" x="17.9" y="-9">˜</text></g>
<g id="K3-13" transform="translate(63.7,614)"><use href="#g"/><g class="n"><text y="7.6"><tspan x="5.2">48</tspan><tspan x="15.6">52</tspan><tspan x="26">56</tspan><tspan x="36.5">60</tspan></text><text y="18"><tspan x="5.2">49</tspan><tspan x="15.6">53</tspan><tspan x="26">57</tspan><tspan x="36.5">61</tspan></text><text y="28.4"><tspan x="5.2">50</tspan><tspan x="15.6">54</tspan><tspan x="26">58</tspan><tspan x="36.5">62</tspan></text><text y="38.8"><tspan x="5.2">51</tspan><tspan x="15.6">55</tspan><tspan x="26">59</tspan><tspan x="36.5">63</tspan></text></g><text class="lb" x="20.85" y="-4.5"><tspan class="it">K</tspan><tspan class="s" dy="3.5">3</tspan><tspan class="s" dx="-3.75" dy="-7.5">13</tspan></text></g>
<g id="XOR3-14" transform="translate(125.3,634.85)"><use href="#xo" class="xo"/></g>
<g id="X3-14" transform="translate(145.3,614)"><use href="#pf" class="lp"/><use href="#g"/><text class="lb" x="20.85" y="-4.5"><tspan class="it">X</tspan><tspan class="s" dy="3.5">3</tspan><tspan class="s" dx="-3.75" dy="-7.5">14</tspan></text></g>
</g>

<!-- ================= CONNECTORS ================= -->
<g id="connectors" class="ln">
<g id="conn-band0">
<path d="M105.4 60.85H121.1"/><path d="M129.5 60.85H145.3"/><path d="M187 60.85H207"/><path d="M248.7 60.85H268.7"/><path d="M310.3 60.85H330.3"/>
<path d="M105.4 142.85H121.1"/><path d="M129.5 142.85H145.3"/><path d="M187 142.85H207"/><path d="M248.7 142.85H268.7"/><path d="M310.3 142.85H330.3"/>
<path d="M105.4 306.85H121.1"/><path d="M129.5 306.85H145.3"/><path d="M187 306.85H207"/><path d="M248.7 306.85H268.7"/><path d="M310.3 306.85H330.3"/>
<path d="M105.4 388.85H121.1"/><path d="M129.5 388.85H145.3"/><path d="M187 388.85H207"/><path d="M248.7 388.85H268.7"/><path d="M310.3 388.85H330.3"/>
<path d="M105.4 552.85H121.1"/><path d="M129.5 552.85H145.3"/><path d="M187 552.85H207"/><path d="M248.7 552.85H268.7"/><path d="M310.3 552.85H330.3"/>
<path d="M105.4 634.85H121.1"/><path d="M129.5 634.85H145.3"/>
<path d="M125.3 40V56.45"/>
<path d="M351.15 81.7V98.85Q351.15 101.85 348.15 101.85H128.3Q125.3 101.85 125.3 104.85V138.45"/>
<path d="M351.15 163.7V194.6"/>
<path d="M351.15 231V262Q351.15 265 348.15 265H128.3Q125.3 265 125.3 268V302.45"/>
<path d="M351.15 327.7V344.85Q351.15 347.85 348.15 347.85H128.3Q125.3 347.85 125.3 350.85V384.45"/>
<path d="M351.15 409.7V448.6"/>
<path d="M351.15 485V508Q351.15 511 348.15 511H128.3Q125.3 511 125.3 514V548.45"/>
<path d="M351.15 573.7V590.85Q351.15 593.85 348.15 593.85H128.3Q125.3 593.85 125.3 596.85V630.45"/>
</g>
<g id="conn-band1" transform="translate(410,0)">
<path d="M105.4 60.85H121.1"/><path d="M129.5 60.85H145.3"/><path d="M187 60.85H207"/><path d="M248.7 60.85H268.7"/><path d="M310.3 60.85H330.3"/>
<path d="M105.4 142.85H121.1"/><path d="M129.5 142.85H145.3"/><path d="M187 142.85H207"/><path d="M248.7 142.85H268.7"/><path d="M310.3 142.85H330.3"/>
<path d="M105.4 306.85H121.1"/><path d="M129.5 306.85H145.3"/><path d="M187 306.85H207"/><path d="M248.7 306.85H268.7"/><path d="M310.3 306.85H330.3"/>
<path d="M105.4 388.85H121.1"/><path d="M129.5 388.85H145.3"/><path d="M187 388.85H207"/><path d="M248.7 388.85H268.7"/><path d="M310.3 388.85H330.3"/>
<path d="M105.4 552.85H121.1"/><path d="M129.5 552.85H145.3"/><path d="M187 552.85H207"/><path d="M248.7 552.85H268.7"/><path d="M310.3 552.85H330.3"/>
<path d="M105.4 634.85H121.1"/><path d="M129.5 634.85H145.3"/>
<path d="M125.3 40V56.45"/>
<path d="M351.15 81.7V98.85Q351.15 101.85 348.15 101.85H128.3Q125.3 101.85 125.3 104.85V138.45"/>
<path d="M351.15 163.7V194.6"/>
<path d="M351.15 231V262Q351.15 265 348.15 265H128.3Q125.3 265 125.3 268V302.45"/>
<path d="M351.15 327.7V344.85Q351.15 347.85 348.15 347.85H128.3Q125.3 347.85 125.3 350.85V384.45"/>
<path d="M351.15 409.7V448.6"/>
<path d="M351.15 485V508Q351.15 511 348.15 511H128.3Q125.3 511 125.3 514V548.45"/>
<path d="M351.15 573.7V590.85Q351.15 593.85 348.15 593.85H128.3Q125.3 593.85 125.3 596.85V630.45"/>
</g>
<g id="conn-band2" transform="translate(820,0)">
<path d="M105.4 60.85H121.1"/><path d="M129.5 60.85H145.3"/><path d="M187 60.85H207"/><path d="M248.7 60.85H268.7"/><path d="M310.3 60.85H330.3"/>
<path d="M105.4 142.85H121.1"/><path d="M129.5 142.85H145.3"/><path d="M187 142.85H207"/><path d="M248.7 142.85H268.7"/><path d="M310.3 142.85H330.3"/>
<path d="M105.4 306.85H121.1"/><path d="M129.5 306.85H145.3"/><path d="M187 306.85H207"/><path d="M248.7 306.85H268.7"/><path d="M310.3 306.85H330.3"/>
<path d="M105.4 388.85H121.1"/><path d="M129.5 388.85H145.3"/><path d="M187 388.85H207"/><path d="M248.7 388.85H268.7"/><path d="M310.3 388.85H330.3"/>
<path d="M105.4 552.85H121.1"/><path d="M129.5 552.85H145.3"/><path d="M187 552.85H207"/><path d="M248.7 552.85H268.7"/><path d="M310.3 552.85H330.3"/>
<path d="M105.4 634.85H121.1"/><path d="M129.5 634.85H145.3"/>
<path d="M125.3 40V56.45"/>
<path d="M351.15 81.7V98.85Q351.15 101.85 348.15 101.85H128.3Q125.3 101.85 125.3 104.85V138.45"/>
<path d="M351.15 163.7V194.6"/>
<path d="M351.15 231V262Q351.15 265 348.15 265H128.3Q125.3 265 125.3 268V302.45"/>
<path d="M351.15 327.7V344.85Q351.15 347.85 348.15 347.85H128.3Q125.3 347.85 125.3 350.85V384.45"/>
<path d="M351.15 409.7V448.6"/>
<path d="M351.15 485V508Q351.15 511 348.15 511H128.3Q125.3 511 125.3 514V548.45"/>
<path d="M351.15 573.7V590.85Q351.15 593.85 348.15 593.85H128.3Q125.3 593.85 125.3 596.85V630.45"/>
</g>
<g id="conn-band3" transform="translate(1230,0)">
<path d="M105.4 60.85H121.1"/><path d="M129.5 60.85H145.3"/><path d="M187 60.85H207"/><path d="M248.7 60.85H268.7"/><path d="M310.3 60.85H330.3"/>
<path d="M105.4 142.85H121.1"/><path d="M129.5 142.85H145.3"/><path d="M187 142.85H207"/><path d="M248.7 142.85H268.7"/><path d="M310.3 142.85H330.3"/>
<path d="M105.4 306.85H121.1"/><path d="M129.5 306.85H145.3"/><path d="M187 306.85H207"/><path d="M248.7 306.85H268.7"/><path d="M310.3 306.85H330.3"/>
<path d="M105.4 388.85H121.1"/><path d="M129.5 388.85H145.3"/><path d="M187 388.85H207"/><path d="M248.7 388.85H268.7"/><path d="M310.3 388.85H330.3"/>
<path d="M105.4 552.85H121.1"/><path d="M129.5 552.85H145.3"/><path d="M187 552.85H207"/><path d="M248.7 552.85H268.7"/><path d="M310.3 552.85H330.3"/>
<path d="M105.4 634.85H121.1"/><path d="M129.5 634.85H145.3"/>
<path d="M125.3 40V56.45"/>
<path d="M351.15 81.7V98.85Q351.15 101.85 348.15 101.85H128.3Q125.3 101.85 125.3 104.85V138.45"/>
<path d="M351.15 163.7V194.6"/>
<path d="M351.15 231V262Q351.15 265 348.15 265H128.3Q125.3 265 125.3 268V302.45"/>
<path d="M351.15 327.7V344.85Q351.15 347.85 348.15 347.85H128.3Q125.3 347.85 125.3 350.85V384.45"/>
<path d="M351.15 409.7V448.6"/>
<path d="M351.15 485V508Q351.15 511 348.15 511H128.3Q125.3 511 125.3 514V548.45"/>
<path d="M351.15 573.7V590.85Q351.15 593.85 348.15 593.85H128.3Q125.3 593.85 125.3 596.85V630.45"/>
</g>
</g>

<!-- ================= OPERATION LABELS ================= -->
<g id="op-labels" class="op">
<g id="ops-band0">
<text x="197" y="58">SB</text><text x="258.7" y="58">SR</text><text x="320.3" y="58">MC</text>
<text x="197" y="140">SB</text><text x="258.7" y="140">SR</text><text x="320.3" y="140">MC</text>
<text x="197" y="304">SB</text><text x="258.7" y="304">SR</text><text x="320.3" y="304">MC</text>
<text x="197" y="386">SB</text><text x="258.7" y="386">SR</text><text x="320.3" y="386">MC</text>
<text x="197" y="550">SB</text><text x="258.7" y="550">SR</text><text x="320.3" y="550">MC</text>
<text class="e" x="313" y="318" text-anchor="start">2<tspan font-size="5.5" dy="-2.8">−64</tspan></text>
</g>
<g id="ops-band1" transform="translate(410,0)">
<text x="197" y="58">SB</text><text x="258.7" y="58">SR</text><text x="320.3" y="58">MC</text>
<text x="197" y="140">SB</text><text x="258.7" y="140">SR</text><text x="320.3" y="140">MC</text>
<text x="197" y="304">SB</text><text x="258.7" y="304">SR</text><text x="320.3" y="304">MC</text>
<text x="197" y="386">SB</text><text x="258.7" y="386">SR</text><text x="320.3" y="386">MC</text>
<text x="197" y="550">SB</text><text x="258.7" y="550">SR</text><text x="320.3" y="550">MC</text>
<text class="e" x="313" y="72" text-anchor="start">2<tspan font-size="5.5" dy="-2.8">−64</tspan></text>
</g>
<g id="ops-band2" transform="translate(820,0)">
<text x="197" y="58">SB</text><text x="258.7" y="58">SR</text><text x="320.3" y="58">MC</text>
<text x="197" y="140">SB</text><text x="258.7" y="140">SR</text><text x="320.3" y="140">MC</text>
<text x="197" y="304">SB</text><text x="258.7" y="304">SR</text><text x="320.3" y="304">MC</text>
<text x="197" y="386">SB</text><text x="258.7" y="386">SR</text><text x="320.3" y="386">MC</text>
<text x="197" y="550">SB</text><text x="258.7" y="550">SR</text><text x="320.3" y="550">MC</text>
<text class="e" x="313" y="72" text-anchor="start">2<tspan font-size="5.5" dy="-2.8">−64</tspan></text>
</g>
<g id="ops-band3" transform="translate(1230,0)">
<text x="197" y="58">SB</text><text x="258.7" y="58">SR</text><text x="320.3" y="58">MC</text>
<text x="197" y="140">SB</text><text x="258.7" y="140">SR</text><text x="320.3" y="140">MC</text>
<text x="197" y="304">SB</text><text x="258.7" y="304">SR</text><text x="320.3" y="304">MC</text>
<text x="197" y="386">SB</text><text x="258.7" y="386">SR</text><text x="320.3" y="386">MC</text>
<text x="197" y="550">SB</text><text x="258.7" y="550">SR</text><text x="320.3" y="550">MC</text>
<text class="e" x="313" y="72" text-anchor="start">2<tspan font-size="5.5" dy="-2.8">−64</tspan></text>
</g>
</g>
</g>
</svg>
